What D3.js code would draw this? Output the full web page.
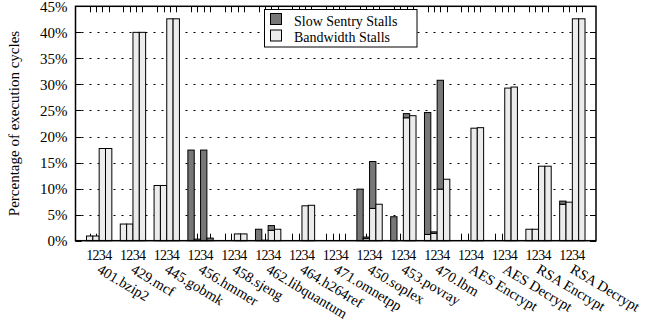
<!DOCTYPE html>
<html>
<head>
<meta charset="utf-8">
<script src="https://cdn.jsdelivr.net/npm/d3@7"></script>
<style>
html,body{margin:0;padding:0;background:#fff;}
svg{display:block;font-family:"Liberation Serif","Times New Roman",Times,serif;}
</style>
</head>
<body>
<svg id="chart" width="645" height="329"></svg>
<script>
// ---- data ----
const groups = ["401.bzip2","429.mcf","445.gobmk","456.hmmer","458.sjeng","462.libquantum","464.h264ref","471.omnetpp","450.soplex","453.povray","470.lbm","AES Encrypt","AES Decrypt","RSA Encrypt","RSA Decrypt"];
const barLabels = ["1","2","3","4"];
const seriesNames = ["Slow Sentry Stalls","Bandwidth Stalls"];
// Bandwidth stalls (bottom segment), per group: 4 bars
const bandwidth = [
  [0.9,0.9,17.7,17.7],
  [3.2,3.2,40.0,40.0],
  [10.6,10.6,42.6,42.6],
  [0,0,0,0],
  [0,0,1.3,1.3],
  [0,0,2.0,2.2],
  [0,0,6.7,6.8],
  [0,0,0,0],
  [0,0.4,6.2,7.0],
  [0,0,23.6,24.0],
  [1.2,1.4,9.9,11.8],
  [0,0,21.6,21.7],
  [0,0,29.3,29.5],
  [2.2,2.2,14.3,14.3],
  [7.0,7.4,42.6,42.6]
];
// Slow sentry stalls (top segment)
const slowSentry = [
  [0,0,0,0],
  [0,0,0,0],
  [0,0,0,0],
  [17.4,0.3,17.4,0.5],
  [0,0,0,0],
  [2.2,0.1,0.9,0],
  [0,0,0,0],
  [0,0,0,0],
  [9.9,0.3,9.0,0],
  [4.6,0,0.8,0],
  [23.4,0.3,20.9,0],
  [0,0,0,0],
  [0,0,0,0],
  [0,0,0,0],
  [0.6,0,0,0]
];
const yTicks = [0,5,10,15,20,25,30,35,40,45];
const yTitle = "Percentage of execution cycles";

// ---- layout ----
const L = 75.5, R = 596, T = 6.3, B = 240.7;
const colors = {slow:"#777777", bw:"#ececec"};
const svg = d3.select("#chart");

const y = d3.scaleLinear().domain([0,45]).range([B,T]);
const x = d3.scaleBand().domain(groups).range([L,R]).paddingInner(0.25).paddingOuter(0.325);
const xi = d3.scaleBand().domain(barLabels).range([0,x.bandwidth()]);

// grid
svg.append("g").selectAll("line").data(yTicks.filter(d=>d>0 && d<45)).join("line")
  .attr("x1",L+6).attr("x2",R-6)
  .attr("y1",d=>Math.round(y(d))+0.5).attr("y2",d=>Math.round(y(d))+0.5)
  .attr("stroke","#000").attr("stroke-width",1).attr("stroke-dasharray","2,6");

// y ticks (left and right, inward)
const yt = svg.append("g");
yt.selectAll("line.l").data(yTicks).join("line").attr("class","l")
  .attr("x1",L).attr("x2",L+6).attr("y1",d=>Math.round(y(d))+0.5).attr("y2",d=>Math.round(y(d))+0.5)
  .attr("stroke","#000");
yt.selectAll("line.r").data(yTicks).join("line").attr("class","r")
  .attr("x1",R-6).attr("x2",R).attr("y1",d=>Math.round(y(d))+0.5).attr("y2",d=>Math.round(y(d))+0.5)
  .attr("stroke","#000");
yt.selectAll("text").data(yTicks).join("text")
  .attr("x",67.5).attr("y",d=>y(d)).attr("dy","0.35em").attr("text-anchor","end")
  .attr("font-size",15).text(d=>d+"%");

// x ticks (bottom and top, inward) at each bar center
const barCenters = [];
groups.forEach(g=>barLabels.forEach(b=>barCenters.push({g,b,cx:x(g)+xi(b)+xi.bandwidth()/2})));
const xt = svg.append("g");
xt.selectAll("line.b").data(barCenters).join("line").attr("class","b")
  .attr("x1",d=>Math.round(d.cx)+0.5).attr("x2",d=>Math.round(d.cx)+0.5).attr("y1",B).attr("y2",B-7).attr("stroke","#000");
xt.selectAll("line.t").data(barCenters).join("line").attr("class","t")
  .attr("x1",d=>Math.round(d.cx)+0.5).attr("x2",d=>Math.round(d.cx)+0.5).attr("y1",T).attr("y2",T+6).attr("stroke","#000");
xt.selectAll("text").data(barCenters).join("text")
  .attr("x",d=>d.cx).attr("y",260).attr("text-anchor","middle").attr("font-size",14).text(d=>d.b);

// bars
const bars = [];
groups.forEach((g,gi)=>barLabels.forEach((b,bi)=>{
  const bw = bandwidth[gi][bi], sl = slowSentry[gi][bi];
  bars.push({g,b,y0:0,y1:bw,fill:colors.bw});
  if (sl>0) bars.push({g,b,y0:bw,y1:bw+sl,fill:colors.slow});
}));
svg.append("g").selectAll("rect").data(bars.filter(d=>d.y1>d.y0)).join("rect")
  .attr("x",d=>x(d.g)+xi(d.b)).attr("width",xi.bandwidth())
  .attr("y",d=>y(d.y1)).attr("height",d=>y(d.y0)-y(d.y1))
  .attr("fill",d=>d.fill).attr("stroke","#000").attr("stroke-width",1);

// border
svg.append("rect").attr("x",L).attr("y",T).attr("width",R-L).attr("height",B-T)
  .attr("fill","none").attr("stroke","#000").attr("stroke-width",1.5);

// group labels rotated
svg.append("g").selectAll("text").data(groups).join("text")
  .attr("transform",g=>`translate(${x(g)+x.bandwidth()/2-3},272) rotate(31)`)
  .attr("font-size",14.5).attr("text-anchor","start").text(g=>g);

// y title
svg.append("text").attr("transform",`translate(19,${(T+B)/2}) rotate(-90)`)
  .attr("text-anchor","middle").attr("font-size",15).text(yTitle);

// legend
const lg = svg.append("g");
lg.append("rect").attr("x",264.5).attr("y",9.5).attr("width",152.5).attr("height",37.5)
  .attr("fill","#fff").attr("stroke","#000").attr("stroke-width",1);
const legItems = [{name:seriesNames[0],fill:colors.slow},{name:seriesNames[1],fill:colors.bw}];
legItems.forEach((d,i)=>{
  lg.append("rect").attr("x",270.5).attr("y",13.5+i*16.5).attr("width",11).attr("height",11)
    .attr("fill",d.fill).attr("stroke","#000");
  lg.append("text").attr("x",294).attr("y",26+i*16).attr("font-size",14).text(d.name);
});
</script>
</body>
</html>
